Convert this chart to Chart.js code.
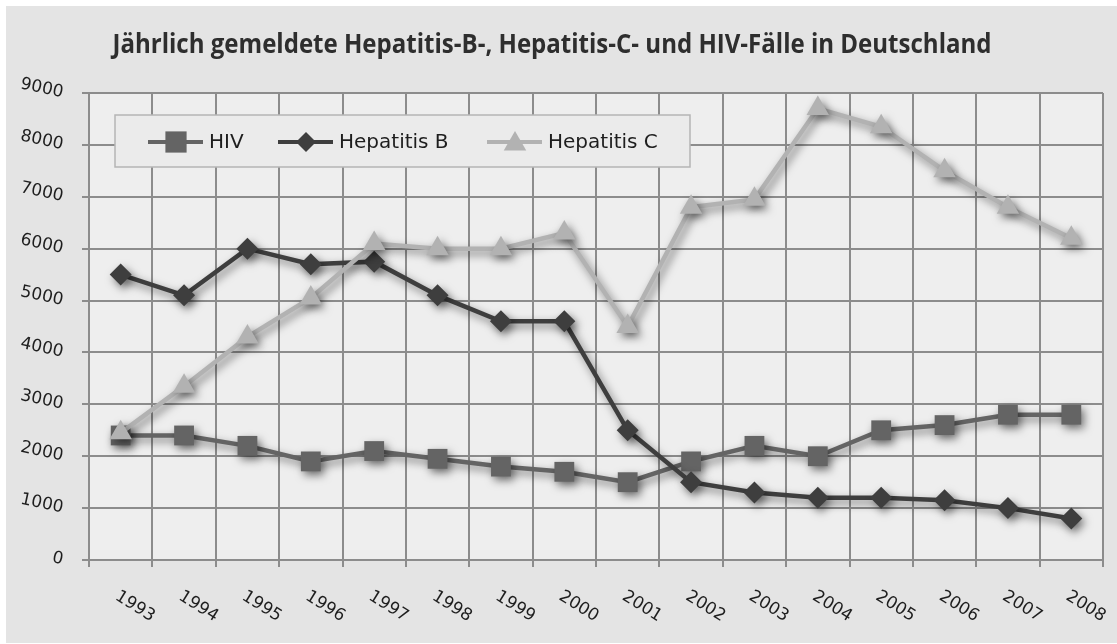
<!DOCTYPE html>
<html lang="de">
<head>
<meta charset="UTF-8">
<title>Hepatitis-B, Hepatitis-C und HIV in Deutschland</title>
<script src="https://cdn.jsdelivr.net/npm/chart.js"></script>
<style>
  html, body { margin: 0; padding: 0; background: #ffffff; }
  #wrap { width: 1117px; height: 644px; }
</style>
</head>
<body>
<div id="wrap"><canvas id="chart" width="1117" height="644"></canvas></div>
<script>
// data
const years = ['1993','1994','1995','1996','1997','1998','1999','2000',
               '2001','2002','2003','2004','2005','2006','2007','2008'];
const hiv  = [2400, 2400, 2200, 1900, 2100, 1950, 1800, 1700, 1500, 1900, 2200, 2000, 2500, 2600, 2800, 2800];
const hepB = [5500, 5100, 6000, 5700, 5750, 5100, 4600, 4600, 2500, 1500, 1300, 1200, 1200, 1150, 1000, 800];
const hepC = [2450, 3350, 4300, 5050, 6100, 6000, 6000, 6300, 4500, 6800, 6950, 8700, 8350, 7500, 6800, 6200];
const yMin = 0, yMax = 9000, yStep = 1000;
const titleText = 'Jährlich gemeldete Hepatitis-B-, Hepatitis-C- und HIV-Fälle in Deutschland';

const gridColor = '#8c8c8c';
const tickFont = { family: '"DejaVu Sans", Verdana, sans-serif', size: 17 };

// card + plot background
const backgroundPlugin = {
    id: 'bg',
    beforeDraw(chart) {
        const ctx = chart.ctx, a = chart.chartArea;
        ctx.save();
        ctx.fillStyle = '#e4e4e4';
        ctx.fillRect(6, 6, chart.width - 6, chart.height - 7);
        ctx.fillStyle = '#eeeeee';
        ctx.fillRect(a.left, a.top, a.right - a.left, a.bottom - a.top);
        ctx.restore();
    }
};

// soft drop shadow under lines and markers
const shadowPlugin = {
    id: 'shadow',
    beforeDatasetDraw(chart) {
        const ctx = chart.ctx;
        ctx.save();
        ctx.shadowColor = 'rgba(0,0,0,0.5)';
        ctx.shadowBlur = 8;
        ctx.shadowOffsetX = 3;
        ctx.shadowOffsetY = 4;
    },
    afterDatasetDraw(chart) {
        chart.ctx.restore();
    }
};

function marker(ctx, style, radius, x, y) {
    if (Chart.helpers && Chart.helpers.drawPoint) {
        Chart.helpers.drawPoint(ctx, { pointStyle: style, radius: radius, rotation: 0, borderWidth: 0 }, x, y);
        return;
    }
    ctx.beginPath();
    if (style === 'rect') {
        const s = radius * Math.SQRT1_2;
        ctx.rect(x - s, y - s, 2 * s, 2 * s);
    } else if (style === 'rectRot') {
        ctx.moveTo(x, y - radius); ctx.lineTo(x + radius, y);
        ctx.lineTo(x, y + radius); ctx.lineTo(x - radius, y);
    } else {
        ctx.moveTo(x, y - radius);
        ctx.lineTo(x + radius * 0.866, y + radius * 0.5);
        ctx.lineTo(x - radius * 0.866, y + radius * 0.5);
    }
    ctx.closePath();
    ctx.fill();
}

// title, rotated year labels and legend box
const decorPlugin = {
    id: 'decor',
    afterDraw(chart) {
        const ctx = chart.ctx;
        const xs = chart.scales.x;
        ctx.save();

        ctx.fillStyle = '#2e2e2e';
        ctx.font = 'bold 26px "Open Sans", "DejaVu Sans", sans-serif';
        ctx.textAlign = 'center';
        ctx.textBaseline = 'alphabetic';
        ctx.fillText(titleText, 552, 53, 879);

        ctx.fillStyle = '#1e1e1e';
        ctx.font = '17px "DejaVu Sans", Verdana, sans-serif';
        ctx.textAlign = 'left';
        ctx.textBaseline = 'middle';
        years.forEach((lab, i) => {
            const x = xs.getPixelForTick(i);
            ctx.save();
            ctx.translate(x - 4, 595);
            ctx.rotate(32 * Math.PI / 180);
            ctx.fillText(lab, 0, 0);
            ctx.restore();
        });

        // legend
        ctx.fillStyle = '#ebebeb';
        ctx.fillRect(115, 115, 575, 52);
        ctx.strokeStyle = '#b5b5b5';
        ctx.lineWidth = 1.5;
        ctx.strokeRect(115, 115, 575, 52);
        const slots = [148, 278, 487];
        const sizes = [15, 10, 13];
        const ly = 142;
        chart.data.datasets.forEach((ds, i) => {
            const x0 = slots[i];
            ctx.strokeStyle = ds.borderColor;
            ctx.lineWidth = 4;
            ctx.beginPath();
            ctx.moveTo(x0, ly);
            ctx.lineTo(x0 + 55, ly);
            ctx.stroke();
            ctx.fillStyle = ds.backgroundColor;
            marker(ctx, ds.pointStyle, sizes[i], x0 + 28, ly + (ds.pointStyle === 'triangle' ? 2 : 0));
            ctx.fillStyle = '#1e1e1e';
            ctx.font = '20px "DejaVu Sans", Verdana, sans-serif';
            ctx.textAlign = 'left';
            ctx.textBaseline = 'middle';
            ctx.fillText(ds.label, x0 + 61, ly + 1);
        });
        ctx.restore();
    }
};

new Chart(document.getElementById('chart'), {
    type: 'line',
    data: {
        labels: years,
        datasets: [
            {
                label: 'HIV',
                data: hiv,
                borderColor: '#646464',
                backgroundColor: '#646464',
                borderWidth: 4.5,
                pointStyle: 'rect',
                pointRadius: 14,
                pointHoverRadius: 14,
                pointBorderWidth: 0,
                order: 3
            },
            {
                label: 'Hepatitis B',
                data: hepB,
                borderColor: '#3e3e3e',
                backgroundColor: '#3e3e3e',
                borderWidth: 4.5,
                pointStyle: 'rectRot',
                pointRadius: 11,
                pointHoverRadius: 11,
                pointBorderWidth: 0,
                order: 2
            },
            {
                label: 'Hepatitis C',
                data: hepC,
                borderColor: '#b2b2b2',
                backgroundColor: '#b2b2b2',
                borderWidth: 4.5,
                pointStyle: 'triangle',
                pointRadius: 13,
                pointHoverRadius: 13,
                pointBorderWidth: 0,
                order: 1
            }
        ]
    },
    options: {
        responsive: false,
        animation: false,
        devicePixelRatio: 1,
        layout: { padding: { left: 0, top: 93, right: 8, bottom: 0 } },
        plugins: {
            legend: { display: false },
            title: { display: false },
            tooltip: { enabled: false }
        },
        scales: {
            x: {
                type: 'category',
                offset: true,
                grid: { offset: true, color: gridColor, lineWidth: 2, tickLength: 7 },
                border: { color: gridColor, width: 2 },
                ticks: { display: false },
                afterFit(s) { s.height = 84; }
            },
            y: {
                min: yMin,
                max: yMax,
                grid: { color: gridColor, lineWidth: 2, tickLength: 7 },
                border: { color: gridColor, width: 2 },
                ticks: {
                    stepSize: yStep,
                    font: tickFont,
                    color: '#1e1e1e',
                    padding: 19,
                    minRotation: -12,
                    maxRotation: -12,
                    callback: v => String(v)
                },
                afterFit(s) { s.width = 89; }
            }
        }
    },
    plugins: [backgroundPlugin, shadowPlugin, decorPlugin]
});
</script>
</body>
</html>
